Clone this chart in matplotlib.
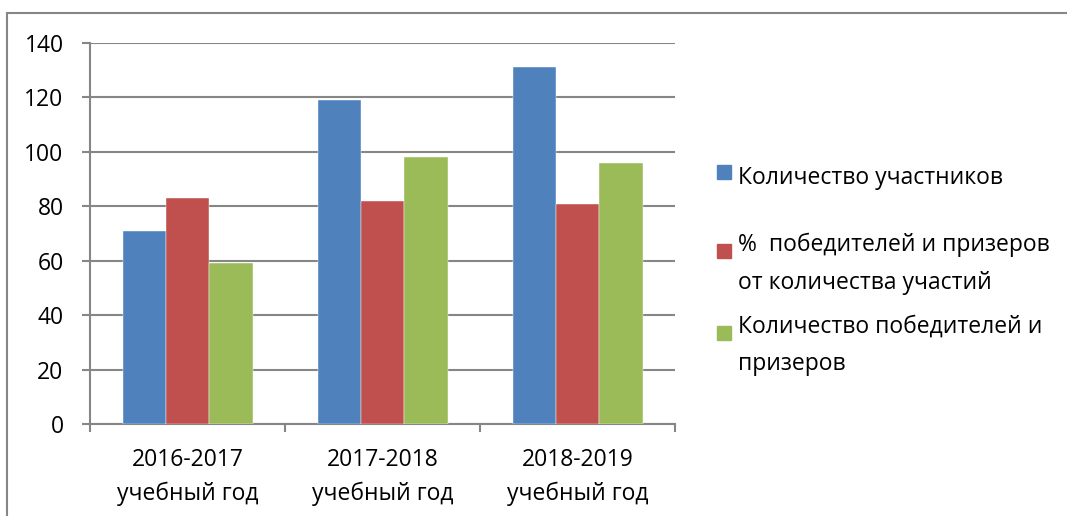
import numpy as np
import matplotlib
matplotlib.use("Agg")
import matplotlib.pyplot as plt
from matplotlib.patches import Rectangle

categories = ["2016-2017\nучебный год", "2017-2018\nучебный год", "2018-2019\nучебный год"]
series_names = ["Количество участников",
                "%  победителей и призеров\nот количества участий",
                "Количество победителей и\nпризеров"]
participants = [71, 119, 131]
percent_winners = [83, 82, 81]
winners = [59, 98, 96]
colors = ["#4F81BD", "#C0504D", "#9BBB59"]

plt.rcParams["font.family"] = ["Open Sans", "DejaVu Sans"]

W, H = 1067, 516
fig = plt.figure(figsize=(W / 100, H / 100), dpi=100)

# рамка диаграммы
fig.patches.append(Rectangle((7 / W, -0.1), 1.2, 1 - 13 / H + 0.1, transform=fig.transFigure,
                             fill=False, edgecolor="#868686", linewidth=1.5))

ax = fig.add_axes([90 / W, 1 - 424 / H, 585 / W, 381 / H])

x = np.arange(len(categories))
bw = 1 / 4.5
for i, vals in enumerate([participants, percent_winners, winners]):
    ax.bar(x + (i - 1) * bw, vals, width=bw, color=colors[i],
           edgecolor="white", linewidth=0.3, zorder=3)

ax.set_xlim(-0.5, 2.5)
ax.set_ylim(0, 140)
ax.set_yticks(range(0, 141, 20))
ax.yaxis.grid(True, color="#868686", linewidth=1.5, zorder=0)
ax.set_xticks(x)
ax.set_xticklabels(categories, fontsize=16.5, linespacing=1.55)
ax.set_xticks([-0.5, 0.5, 1.5, 2.5], minor=True)
ax.tick_params(axis="x", which="major", length=0, pad=17)
ax.tick_params(axis="x", which="minor", length=6, color="#868686", width=1.5)
ax.tick_params(axis="y", length=6, color="#868686", width=1.5, labelsize=16.5, pad=13)

for s in ["top", "right"]:
    ax.spines[s].set_visible(False)
for s in ["left", "bottom"]:
    ax.spines[s].set_color("#868686")
    ax.spines[s].set_linewidth(1.5)

# легенда (маркер на уровне первой строки, как в Excel)
leg_y = [172, 251, 333]
for name, c, yy in zip(series_names, colors, leg_y):
    fig.patches.append(Rectangle((717 / W, 1 - (yy + 7) / H), 14 / W, 14 / H,
                                 transform=fig.transFigure, color=c))
    fig.text(738 / W, 1 - (yy + 3) / H, name, fontsize=16.5, va="center_baseline", ha="left",
             linespacing=1.75)

fig.savefig("out.png", dpi=100)
